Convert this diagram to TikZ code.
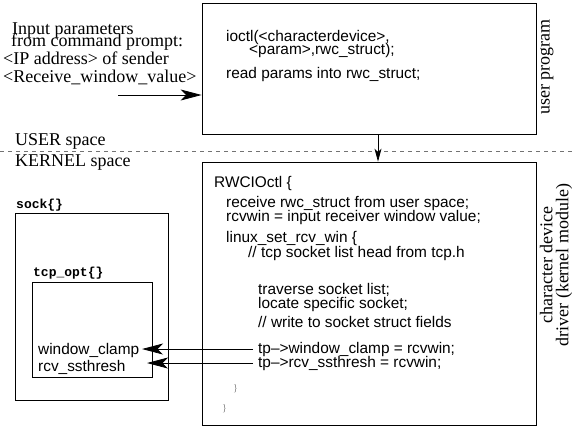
\documentclass[tikz,border=0pt]{standalone}
\usepackage{fontspec}
\setmainfont{Liberation Serif}
\setsansfont{Liberation Sans}
\setmonofont{Liberation Mono}
\usetikzlibrary{arrows.meta}
\tikzset{
  boxframe/.style={draw=black, line width=0.8pt, inner sep=0pt},
  serif/.style={inner sep=0pt, anchor=base west, font=\fontsize{18}{18}\selectfont\rmfamily},
  sans/.style={inner sep=0pt, anchor=base west, font=\fontsize{15.4}{15.4}\selectfont\sffamily},
  mono/.style={inner sep=0pt, anchor=base west, font=\fontsize{13}{13}\selectfont\ttfamily\bfseries},
  tinybrace/.style={inner sep=0pt, anchor=base west, text=black!50, font=\fontsize{10}{10}\selectfont\rmfamily},
  bigarrow/.style={line width=0.8pt, -{Stealth[length=21pt,width=11pt,inset=5.5pt]}},
  downarrow/.style={line width=0.8pt, -{Stealth[length=13pt,width=7pt,inset=3.5pt]}},
  spaceline/.style={draw=black!55, line width=1pt, dash pattern=on 4pt off 4pt}
}
\begin{document}
\begin{tikzpicture}[x=1pt,y=-1pt]
\useasboundingbox (0,0) rectangle (573,429);
% boxes
\node[boxframe, minimum width=334pt, minimum height=131pt] (ubox) at (369,68.5) {};
\node[boxframe, minimum width=334pt, minimum height=263pt] (kbox) at (369,293.5) {};
\node[boxframe, minimum width=153pt, minimum height=187pt] (sockbox) at (91.5,306.5) {};
\node[boxframe, minimum width=120pt, minimum height=95pt] (tcpbox) at (92,329.5) {};
% user/kernel separator
\coordinate (sepl) at (0,151);
\coordinate (sepr) at (573,151);
\draw[spaceline] (sepl) -- (sepr);
% left input text
\node[serif] (in1) at (12,34) {Input parameters};
\node[serif] (in2) at (11,46) {from command prompt:};
\node[serif] (in3) at (3,64) {<IP address> of sender};
\node[serif] (in4) at (3,82) {<Receive\_window\_value>};
\node[serif] (usr) at (15,145) {USER space};
\node[serif] (krn) at (15,166) {KERNEL space};
% input arrow
\coordinate (inp) at (118,95);
\draw[bigarrow] (inp) -- (inp -| ubox.west);
% user program text
\node[sans] (u1) at (226,41) {ioctl(<characterdevice>,};
\node[sans] (u2) at (249,54) {<param>,rwc\_struct);};
\node[sans] (u3) at (226,78) {read params into rwc\_struct;};
% down arrow
\draw[downarrow] ([xshift=9pt]ubox.south) -- ([xshift=9pt]kbox.north);
% kernel text
\node[sans] (k1) at (214,187) {RWCIOctl \{};
\node[sans] (k2) at (226,207) {receive rwc\_struct from user space;};
\node[sans] (k3) at (226,221) {rcvwin = input receiver window value;};
\node[sans] (k4) at (226,242) {linux\_set\_rcv\_win \{};
\node[sans] (k5) at (248,257) {// tcp socket list head from tcp.h};
\node[sans] (k6) at (258,294) {traverse socket list;};
\node[sans] (k7) at (258,308) {locate specific socket;};
\node[sans] (k8) at (258,327) {// write to socket struct fields};
\node[sans] (tpw) at (258,353) {tp\textendash{}>window\_clamp = rcvwin;};
\node[sans] (tpr) at (258,367) {tp\textendash{}>rcv\_ssthresh = rcvwin;};
\node[tinybrace] (b1) at (233,391) {\}};
\node[tinybrace] (b2) at (222,411) {\}};
% struct labels
\node[mono] (sockl) at (16,208) {sock\{\}};
\node[mono] (tcpl) at (33,276) {tcp\_opt\{\}};
\node[sans] (wcl) at (38,354) {window\_clamp};
\node[sans] (rsl) at (38,371) {rcv\_ssthresh};
% arrows to struct fields
\coordinate (wtip) at (142,0);
\coordinate (rtip) at (147,0);
\coordinate (tpwl) at ([xshift=-5pt]tpw.west);
\coordinate (tprl) at ([xshift=-5pt]tpr.west);
\draw[bigarrow] (tpwl) -- (tpwl -| wtip);
\draw[bigarrow] (tprl) -- (tprl -| rtip);
% side labels
\node[inner sep=0pt, rotate=90, font=\fontsize{18}{18}\selectfont\rmfamily] (uprog) at (547,67) {user program};
\node[inner sep=0pt, rotate=90, align=center, font=\fontsize{18}{16}\selectfont\rmfamily] (cdrv) at (556,265) {character device\\driver (kernel module)};
\end{tikzpicture}
\end{document}
